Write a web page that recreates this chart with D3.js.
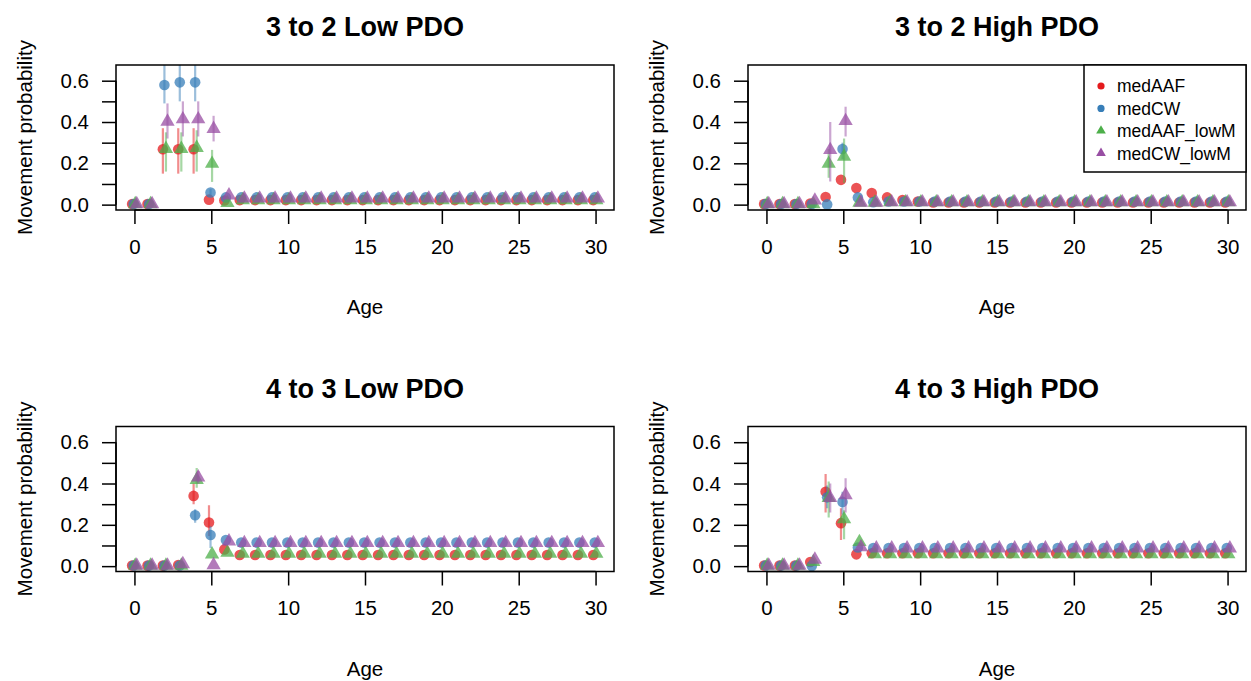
<!DOCTYPE html>
<html>
<head>
<meta charset="utf-8">
<script src="https://cdn.jsdelivr.net/npm/d3@7"></script>
<style>
  body { margin: 0; background: #fff; }
  svg text { font-family: "Liberation Sans", Arial, sans-serif; fill: #000; }
</style>
</head>
<body>
<div id="chart"></div>
<script>
// ages on the x axis
var ages = [0,1,2,3,4,5,6,7,8,9,10,11,12,13,14,15,16,17,18,19,20,21,22,23,24,25,26,27,28,29,30];
var seriesNames = ["medAAF", "medCW", "medAAF_lowM", "medCW_lowM"];
var xTicks = [0,5,10,15,20,25,30];
var yTicks = [0,0.1,0.2,0.3,0.4,0.5,0.6];
var yLabels = [0,0.2,0.4,0.6];

// 3 to 2 Low PDO
var aaf32Low    = [0.003,0.003,0.268,0.268,0.268,0.024, 0.020,0.022,0.022,0.022,0.022, 0.022,0.022,0.022,0.022,0.022, 0.022,0.022,0.022,0.022,0.022, 0.022,0.022,0.022,0.022,0.022, 0.022,0.022,0.022,0.022,0.022];
var cw32Low     = [0.003,0.003,0.579,0.592,0.592,0.059, 0.035,0.035,0.035,0.035,0.035, 0.035,0.035,0.035,0.035,0.035, 0.035,0.035,0.035,0.035,0.035, 0.035,0.035,0.035,0.035,0.035, 0.035,0.035,0.035,0.035,0.035];
var aafLow32Low = [0.003,0.003,0.270,0.270,0.275,0.198, 0.008,0.022,0.022,0.022,0.022, 0.022,0.022,0.022,0.022,0.022, 0.022,0.022,0.022,0.022,0.022, 0.022,0.022,0.022,0.022,0.022, 0.022,0.022,0.022,0.022,0.022];
var cwLow32Low  = [0.003,0.003,0.402,0.414,0.414,0.367, 0.045,0.030,0.030,0.030,0.030, 0.030,0.030,0.030,0.030,0.030, 0.030,0.030,0.030,0.030,0.030, 0.030,0.030,0.030,0.030,0.030, 0.030,0.030,0.030,0.030,0.030];
// [series, age, lo, hi]
var ci32Low = [[0,2,0.15,0.37],[0,3,0.15,0.37],[0,4,0.15,0.37],
               [1,2,0.49,0.72],[1,3,0.50,0.72],[1,4,0.50,0.72],[1,5,0.045,0.075],
               [2,2,0.16,0.35],[2,3,0.16,0.35],[2,4,0.16,0.36],[2,5,0.11,0.265],
               [3,2,0.32,0.49],[3,3,0.33,0.50],[3,4,0.33,0.50],[3,5,0.306,0.43]];

// 3 to 2 High PDO
var aaf32High    = [0.003,0.003,0.003,0.005,0.037,0.120, 0.080,0.056,0.035,0.022,0.015, 0.010,0.010,0.010,0.010,0.010, 0.010,0.010,0.010,0.010,0.010, 0.010,0.010,0.010,0.010,0.010, 0.010,0.010,0.010,0.010,0.010];
var cw32High     = [0.003,0.003,0.003,0.003,0.001,0.269, 0.035,0.012,0.015,0.015,0.015, 0.015,0.015,0.015,0.015,0.015, 0.015,0.015,0.015,0.015,0.015, 0.015,0.015,0.015,0.015,0.015, 0.015,0.015,0.015,0.015,0.015];
var aafLow32High = [0.003,0.003,0.003,0.003,0.198,0.233, 0.010,0.010,0.012,0.012,0.012, 0.012,0.012,0.012,0.012,0.012, 0.012,0.012,0.012,0.012,0.012, 0.012,0.012,0.012,0.012,0.012, 0.012,0.012,0.012,0.012,0.012];
var cwLow32High  = [0.003,0.003,0.003,0.020,0.265,0.405, 0.010,0.010,0.012,0.012,0.012, 0.012,0.012,0.012,0.012,0.012, 0.012,0.012,0.012,0.012,0.012, 0.012,0.012,0.012,0.012,0.012, 0.012,0.012,0.012,0.012,0.012];
var ci32High = [[1,5,0.22,0.30],
                [2,4,0.13,0.27],[2,5,0.105,0.32],
                [3,4,0.112,0.40],[3,5,0.33,0.474]];

// 4 to 3 Low PDO
var aaf43Low    = [0.003,0.003,0.003,0.005,0.340,0.211, 0.081,0.054,0.054,0.054,0.054, 0.054,0.054,0.054,0.054,0.054, 0.054,0.054,0.054,0.054,0.054, 0.054,0.054,0.054,0.054,0.054, 0.054,0.054,0.054,0.054,0.054];
var cw43Low     = [0.003,0.003,0.003,0.003,0.246,0.151, 0.126,0.114,0.114,0.114,0.114, 0.114,0.114,0.114,0.114,0.114, 0.114,0.114,0.114,0.114,0.114, 0.114,0.114,0.114,0.114,0.114, 0.114,0.114,0.114,0.114,0.114];
var aafLow43Low = [0.003,0.003,0.003,0.003,0.418,0.057, 0.065,0.060,0.060,0.060,0.060, 0.060,0.060,0.060,0.060,0.060, 0.060,0.060,0.060,0.060,0.060, 0.060,0.060,0.060,0.060,0.060, 0.060,0.060,0.060,0.060,0.060];
var cwLow43Low  = [0.003,0.003,0.003,0.010,0.430,0.005, 0.120,0.112,0.112,0.112,0.112, 0.112,0.112,0.112,0.112,0.112, 0.112,0.112,0.112,0.112,0.112, 0.112,0.112,0.112,0.112,0.112, 0.112,0.112,0.112,0.112,0.112];
var ci43Low = [[0,4,0.30,0.40],[0,5,0.146,0.295],
               [1,4,0.21,0.275],[1,5,0.088,0.193],
               [2,4,0.38,0.475],
               [3,4,0.40,0.46]];

// 4 to 3 High PDO
var aaf43High    = [0.003,0.003,0.003,0.020,0.360,0.208, 0.057,0.062,0.062,0.062,0.062, 0.062,0.062,0.062,0.062,0.062, 0.062,0.062,0.062,0.062,0.062, 0.062,0.062,0.062,0.062,0.062, 0.062,0.062,0.062,0.062,0.062];
var cw43High     = [0.003,0.003,0.003,0.001,0.333,0.311, 0.090,0.088,0.088,0.088,0.088, 0.088,0.088,0.088,0.088,0.088, 0.088,0.088,0.088,0.088,0.088, 0.088,0.088,0.088,0.088,0.088, 0.088,0.088,0.088,0.088,0.088];
var aafLow43High = [0.003,0.003,0.003,0.020,0.330,0.227, 0.117,0.058,0.058,0.058,0.058, 0.058,0.058,0.058,0.058,0.058, 0.058,0.058,0.058,0.058,0.058, 0.058,0.058,0.058,0.058,0.058, 0.058,0.058,0.058,0.058,0.058];
var cwLow43High  = [0.003,0.003,0.003,0.032,0.330,0.344, 0.092,0.086,0.086,0.086,0.086, 0.086,0.086,0.086,0.086,0.086, 0.086,0.086,0.086,0.086,0.086, 0.086,0.086,0.086,0.086,0.086, 0.086,0.086,0.086,0.086,0.086];
var ci43High = [[0,4,0.26,0.446],[0,5,0.126,0.28],
                [1,4,0.28,0.39],[1,5,0.25,0.36],
                [2,4,0.235,0.41],[2,5,0.13,0.27],
                [3,4,0.26,0.40],[3,5,0.26,0.425]];

var panels = [
  {title: "3 to 2 Low PDO",  row: 0, col: 0, series: [aaf32Low, cw32Low, aafLow32Low, cwLow32Low], ci: ci32Low},
  {title: "3 to 2 High PDO", row: 0, col: 1, series: [aaf32High, cw32High, aafLow32High, cwLow32High], ci: ci32High, legend: true},
  {title: "4 to 3 Low PDO",  row: 1, col: 0, series: [aaf43Low, cw43Low, aafLow43Low, cwLow43Low], ci: ci43Low},
  {title: "4 to 3 High PDO", row: 1, col: 1, series: [aaf43High, cw43High, aafLow43High, cwLow43High], ci: ci43High}
];

var colors = ["#E41A1C", "#377EB8", "#4DAF4A", "#984EA3"];
var shapes = ["circle", "circle", "triangle", "triangle"];
var offsets = [-0.15, -0.05, 0.05, 0.15];

var W = 1251, H = 681;
var svg = d3.select("#chart").append("svg")
    .attr("width", W).attr("height", H);
svg.append("rect").attr("width", W).attr("height", H).attr("fill", "#fff");

// R style point marker
function marker(g, shape, cx, cy, r, fill, op) {
    if (shape == "circle") {
        g.append("circle").attr("cx", cx).attr("cy", cy).attr("r", r)
            .attr("fill", fill).attr("fill-opacity", op);
    } else {
        var xc = 1.347 * r, top = 1.555 * r, yc = 0.778 * r;
        g.append("path")
            .attr("d", "M" + cx + "," + (cy - top) + "L" + (cx + xc) + "," + (cy + yc) + "L" + (cx - xc) + "," + (cy + yc) + "Z")
            .attr("fill", fill).attr("fill-opacity", op);
    }
}

panels.forEach(function(p, pi) {
    var left = 116 + p.col * 632, top = 65 + p.row * 361.5;
    var pw = 498, ph = 145;

    var x = d3.scaleLinear().domain([-1.2, 31.2]).range([left, left + pw]);
    var y = d3.scaleLinear().domain([-0.026, 0.676]).range([top + ph, top]);

    var g = svg.append("g");

    g.append("clipPath").attr("id", "clip" + pi)
        .append("rect").attr("x", left).attr("y", top).attr("width", pw).attr("height", ph);

    var plot = g.append("g").attr("clip-path", "url(#clip" + pi + ")");

    p.series.forEach(function(vals, si) {
        // error bars
        p.ci.filter(function(c) { return c[0] == si; }).forEach(function(c) {
            plot.append("line")
                .attr("x1", x(c[1] + offsets[si])).attr("x2", x(c[1] + offsets[si]))
                .attr("y1", y(c[2])).attr("y2", y(c[3]))
                .attr("stroke", colors[si]).attr("stroke-opacity", 0.5)
                .attr("stroke-width", 2.2);
        });
        vals.forEach(function(v, i) {
            marker(plot, shapes[si], x(ages[i] + offsets[si]), y(v), 5.3, colors[si], 0.75);
        });
    });

    // box
    g.append("rect").attr("x", left).attr("y", top).attr("width", pw).attr("height", ph)
        .attr("fill", "none").attr("stroke", "#000").attr("stroke-width", 1.5);

    // x axis
    var xAxis = g.append("g").attr("transform", "translate(0," + (top + ph) + ")")
        .call(d3.axisBottom(x).tickValues(xTicks).tickSize(14).tickPadding(15).tickFormat(d3.format("d")));
    xAxis.select(".domain").remove();
    xAxis.append("line").attr("x1", x(0)).attr("x2", x(30)).attr("stroke", "#000").attr("stroke-width", 1.5);
    xAxis.selectAll(".tick line").attr("stroke-width", 1.5);
    xAxis.selectAll("text").attr("font-size", 20.5).attr("font-family", "Liberation Sans, Arial, sans-serif");

    // y axis
    var yAxis = g.append("g").attr("transform", "translate(" + left + ",0)")
        .call(d3.axisLeft(y).tickValues(yTicks).tickSize(14).tickPadding(13)
            .tickFormat(function(d) { return yLabels.some(function(l) { return Math.abs(l - d) < 1e-9; }) ? d3.format(".1f")(d) : ""; }));
    yAxis.select(".domain").remove();
    yAxis.append("line").attr("y1", y(0)).attr("y2", y(0.6)).attr("stroke", "#000").attr("stroke-width", 1.5);
    yAxis.selectAll(".tick line").attr("stroke-width", 1.5);
    yAxis.selectAll("text").attr("font-size", 20.5).attr("font-family", "Liberation Sans, Arial, sans-serif");

    // titles
    g.append("text").attr("x", left + pw / 2).attr("y", top - 29)
        .attr("text-anchor", "middle").attr("font-size", 27).attr("font-weight", "bold")
        .text(p.title);
    g.append("text").attr("x", left + pw / 2).attr("y", top + 249)
        .attr("text-anchor", "middle").attr("font-size", 20.5).text("Age");
    g.append("text")
        .attr("transform", "translate(" + (left - 84) + "," + (top + ph / 2) + ") rotate(-90)")
        .attr("text-anchor", "middle").attr("font-size", 20.5).text("Movement probability");

    if (p.legend) {
        var lw = 162, lh = 107;
        var lx = left + pw - lw, ly = top;
        var lg = g.append("g");
        lg.append("rect").attr("x", lx).attr("y", ly).attr("width", lw).attr("height", lh)
            .attr("fill", "#fff").attr("stroke", "#000").attr("stroke-width", 1.5);
        seriesNames.forEach(function(name, si) {
            var ry = ly + 21 + si * 22.4;
            marker(lg, shapes[si], lx + 17, ry, 3.6, colors[si], 1);
            lg.append("text").attr("x", lx + 33).attr("y", ry).attr("dy", "0.36em")
                .attr("font-size", 17.5).text(name);
        });
    }
});
</script>
</body>
</html>
